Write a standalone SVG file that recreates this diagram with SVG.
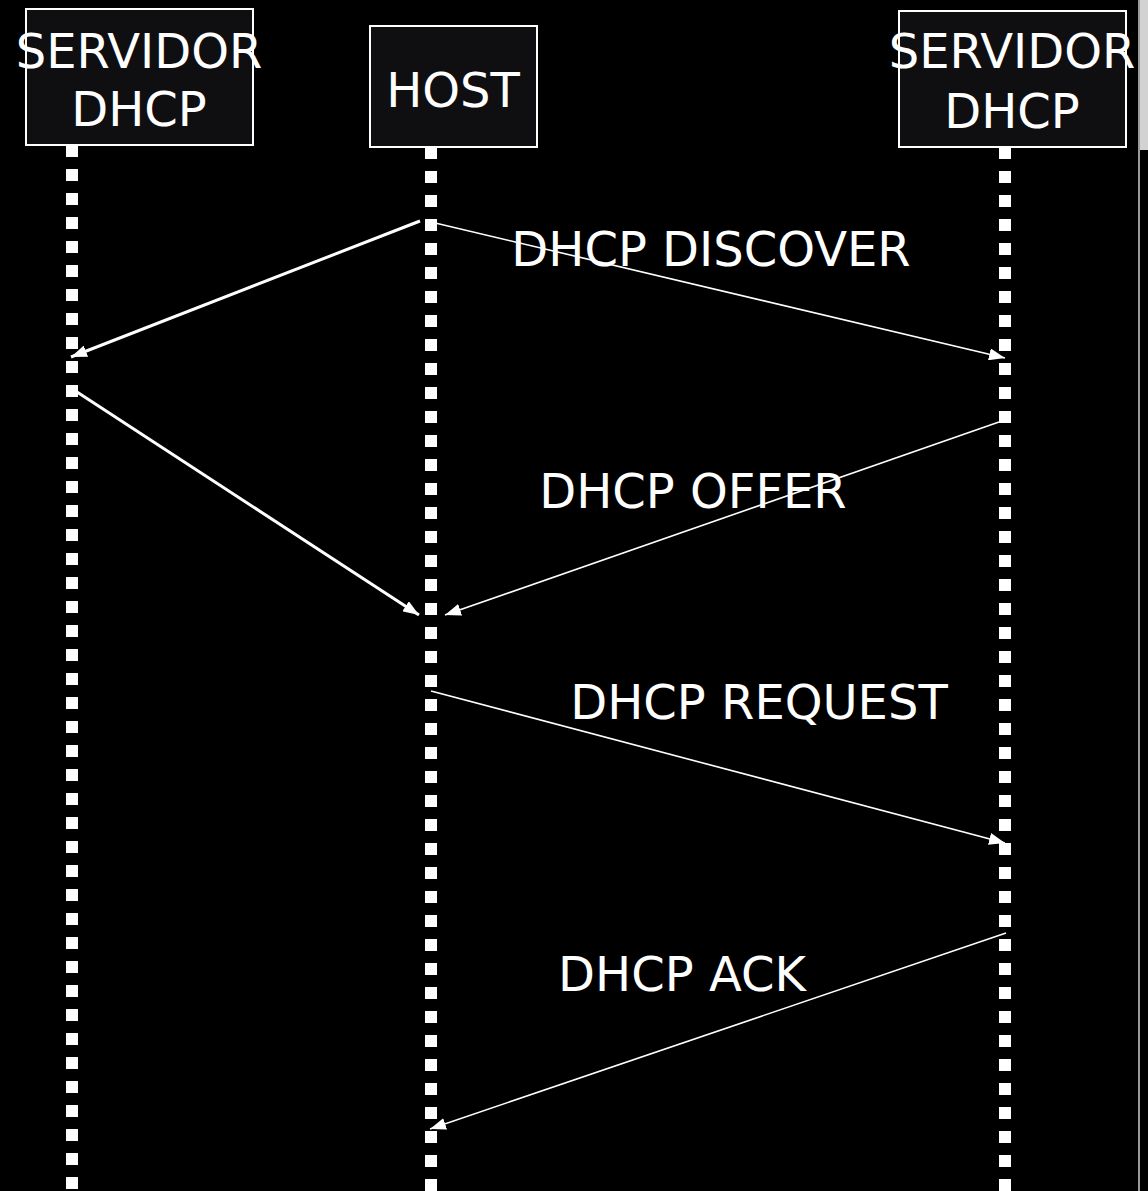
<svg xmlns="http://www.w3.org/2000/svg" width="1148" height="1191" viewBox="0 0 1148 1191">
<style>
.box{fill:#0f0f11;stroke:#ffffff;stroke-width:2}
.t{font-family:"DejaVu Sans",sans-serif;font-size:48px;fill:#ffffff;text-anchor:middle}
.life{stroke:#ffffff;stroke-width:12;stroke-dasharray:12 12;fill:none}
.thick{stroke:#ffffff;stroke-width:3;fill:none}
.thin{stroke:#ffffff;stroke-width:1.6;fill:none}
</style>
<defs>
<marker id="ah" viewBox="0 0 16 12" refX="16" refY="6" markerWidth="16" markerHeight="12" markerUnits="userSpaceOnUse" orient="auto">
<path d="M0,0 L16,6 L0,12 Z" fill="#ffffff"/>
</marker>
</defs>
<rect x="0" y="0" width="1148" height="1191" fill="#000000"/>
<rect x="1138" y="0" width="2" height="1191" fill="#9a9a9a"/>
<rect x="1140" y="0" width="8" height="150" fill="#d2d2d2"/>
<g id="lifelines">
<line class="life" x1="72" y1="145" x2="72" y2="1191"/>
<line class="life" x1="431" y1="147" x2="431" y2="1191"/>
<line class="life" x1="1005" y1="147" x2="1005" y2="1191"/>
</g>
<g id="node-servidor-left">
<rect class="box" x="26" y="9" width="227" height="136"/>
<text class="t" x="139" y="68">SERVIDOR</text>
<text class="t" x="139" y="126">DHCP</text>
</g>
<g id="node-host">
<rect class="box" x="370" y="26" width="167" height="121"/>
<text class="t" x="453" y="107">HOST</text>
</g>
<g id="node-servidor-right">
<rect class="box" x="899" y="11" width="227" height="136"/>
<text class="t" x="1012" y="68">SERVIDOR</text>
<text class="t" x="1012" y="128">DHCP</text>
</g>
<g id="connectors">
<line class="thick" x1="420" y1="221" x2="71" y2="357" marker-end="url(#ah)"/>
<line class="thin" x1="431" y1="222" x2="1005" y2="358" marker-end="url(#ah)"/>
<line class="thick" x1="77" y1="392" x2="419" y2="615" marker-end="url(#ah)"/>
<line class="thin" x1="999" y1="422" x2="445" y2="615" marker-end="url(#ah)"/>
<line class="thin" x1="431" y1="691" x2="1005" y2="843" marker-end="url(#ah)"/>
<line class="thin" x1="1006" y1="933" x2="430" y2="1129" marker-end="url(#ah)"/>
</g>
<g id="labels">
<text class="t" x="711" y="266">DHCP DISCOVER</text>
<text class="t" x="693" y="508">DHCP OFFER</text>
<text class="t" x="759" y="719">DHCP REQUEST</text>
<text class="t" x="682" y="991">DHCP ACK</text>
</g>
</svg>
